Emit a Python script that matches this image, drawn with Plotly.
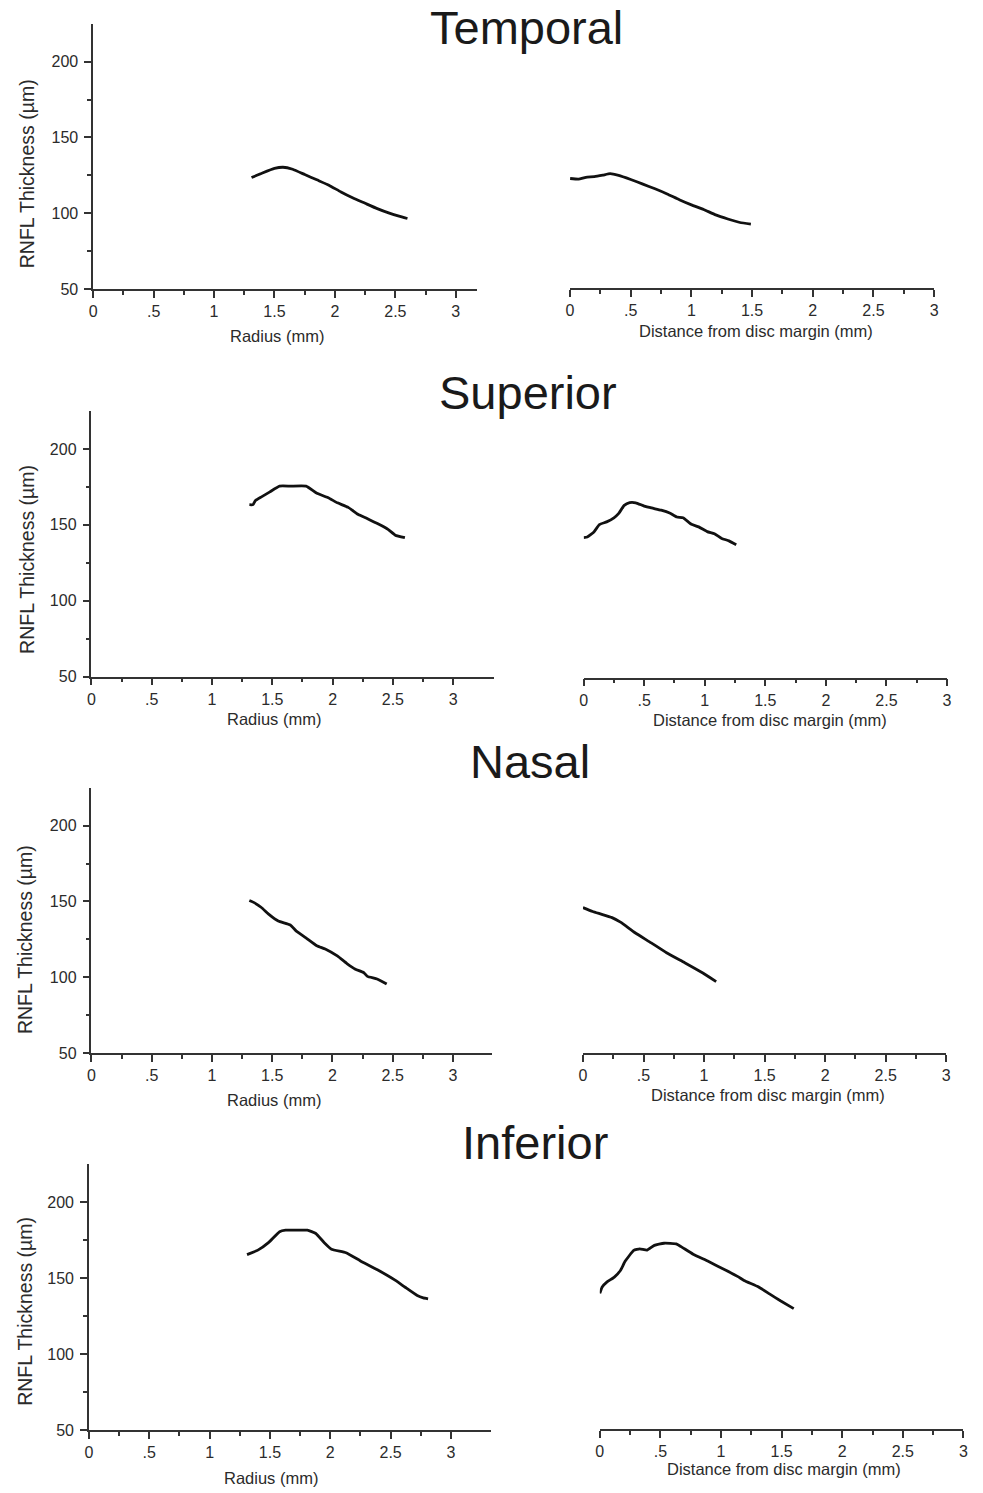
import plotly.graph_objects as go

W, H = 983, 1493

# ---------------- data ----------------
row_titles = ["Temporal", "Superior", "Nasal", "Inferior"]
x_tick_vals = [0, 0.5, 1, 1.5, 2, 2.5, 3]
x_tick_text = ["0", ".5", "1", "1.5", "2", "2.5", "3"]
x_minor_vals = [0.25, 0.75, 1.25, 1.75, 2.25, 2.75]
y_tick_vals = [50, 100, 150, 200]
y_tick_text = ["50", "100", "150", "200"]
y_minor_vals = [75, 125, 175]
left_x_title = "Radius (mm)"
right_x_title = "Distance from disc margin (mm)"
y_title = "RNFL Thickness (µm)"

temporal_radius_x = [1.31, 1.40, 1.50, 1.57, 1.65, 1.75, 1.85, 1.95, 2.05, 2.15, 2.25, 2.35, 2.45, 2.53, 2.60]
temporal_radius_y = [123.5, 126.5, 129.5, 130.3, 129.0, 125.5, 122.0, 118.5, 114.0, 110.0, 106.5, 103.0, 100.0, 98.0, 96.5]
temporal_margin_x = [0, 0.07, 0.13, 0.20, 0.27, 0.33, 0.40, 0.50, 0.60, 0.70, 0.80, 0.90, 1.00, 1.10, 1.20, 1.30, 1.40, 1.49]
temporal_margin_y = [122.0, 121.6, 122.8, 123.2, 124.2, 125.2, 124.0, 121.3, 118.3, 115.2, 111.8, 108.0, 104.6, 101.6, 98.0, 95.3, 93.0, 92.0]

superior_radius_x = [1.31, 1.34, 1.36, 1.41, 1.48, 1.56, 1.65, 1.78, 1.87, 1.96, 2.04, 2.13, 2.21, 2.29, 2.38, 2.46, 2.52, 2.60]
superior_radius_y = [163.3, 163.3, 166.0, 168.4, 171.7, 175.5, 175.5, 175.5, 170.8, 168.0, 164.5, 161.5, 157.0, 154.0, 150.5, 147.0, 143.2, 141.5]
superior_margin_x = [0, 0.03, 0.085, 0.13, 0.19, 0.25, 0.29, 0.335, 0.38, 0.43, 0.50, 0.57, 0.64, 0.71, 0.77, 0.82, 0.89, 0.95, 1.02, 1.08, 1.14, 1.20, 1.26]
superior_margin_y = [142.2, 142.6, 146.0, 150.8, 152.6, 155.3, 158.2, 163.5, 165.3, 165.2, 163.0, 161.6, 160.3, 158.5, 155.8, 155.3, 151.0, 149.3, 146.2, 144.8, 141.7, 140.1, 137.5]

nasal_radius_x = [1.31, 1.35, 1.41, 1.47, 1.55, 1.65, 1.70, 1.78, 1.87, 1.94, 2.04, 2.12, 2.19, 2.26, 2.29, 2.37, 2.45]
nasal_radius_y = [150.6, 149.2, 146.0, 141.6, 137.0, 134.4, 130.4, 126.0, 120.8, 118.6, 114.0, 109.0, 105.3, 103.0, 100.5, 98.8, 95.5]
nasal_margin_x = [0, 0.08, 0.15, 0.24, 0.31, 0.43, 0.55, 0.69, 0.84, 0.99, 1.10]
nasal_margin_y = [146.2, 143.6, 141.9, 139.6, 136.6, 129.6, 123.6, 116.4, 109.8, 103.0, 97.3]

inferior_radius_x = [1.31, 1.40, 1.49, 1.58, 1.63, 1.72, 1.81, 1.88, 1.95, 2.01, 2.13, 2.25, 2.39, 2.54, 2.62, 2.72, 2.77, 2.81]
inferior_radius_y = [165.4, 168.4, 173.5, 180.5, 181.5, 181.5, 181.5, 179.3, 173.3, 169.0, 166.7, 161.3, 155.5, 148.5, 144.0, 138.6, 137.0, 136.4]
inferior_margin_x = [0, 0.02, 0.06, 0.12, 0.17, 0.21, 0.28, 0.33, 0.39, 0.45, 0.53, 0.63, 0.67, 0.77, 0.89, 1.04, 1.14, 1.19, 1.31, 1.40, 1.49, 1.60]
inferior_margin_y = [138.8, 143.0, 146.4, 149.5, 153.8, 160.0, 167.0, 168.0, 167.2, 170.3, 171.7, 171.3, 169.5, 164.5, 160.0, 154.0, 149.8, 147.3, 143.0, 138.5, 134.0, 128.8]

series = [
    (temporal_radius_x, temporal_radius_y, temporal_margin_x, temporal_margin_y),
    (superior_radius_x, superior_radius_y, superior_margin_x, superior_margin_y),
    (nasal_radius_x, nasal_radius_y, nasal_margin_x, nasal_margin_y),
    (inferior_radius_x, inferior_radius_y, inferior_margin_x, inferior_margin_y),
]

# ---------------- layout (pixel boxes) ----------------
left_boxes = [
    (90.0, 477.7, 3.178, 23.9, 290.7),
    (88.3, 495.0, 3.343, 413.5, 680.7),
    (88.3, 493.0, 3.328, 792.6, 1059.3),
    (85.7, 491.7, 3.333, 1171.0, 1439.0),
]
right_boxes = [
    (571.3, 938.7, 22.3, 289.5),
    (585.0, 951.7, 414.5, 681.7),
    (584.3, 951.0, 793.0, 1059.7),
    (601.3, 968.3, 1169.0, 1437.5),
]
title_pos = [(527, 28), (529, 395), (531, 766), (536, 1149)]
left_xtitle_pos = [(275.5, 338.3), (272.5, 723.3), (272.5, 1106.7), (269.7, 1486.7)]
right_xtitle_pos = [(758.8, 333.3), (773.3, 724.3), (771.3, 1101.7), (787.5, 1478.3)]
ytitle_pos = [(24, 174.5), (22.5, 563), (22, 945), (21, 1319)]

FONT = "Liberation Sans, Arial, sans-serif"
TXT = "#2b2b2b"
AX = "#333333"
CURVE = "#111111"

def px(x):
    return x / W

def py(y):
    return 1 - y / H

fig = go.Figure()
layout = dict(
    width=W, height=H, margin=dict(l=0, r=0, t=0, b=0),
    paper_bgcolor="white", plot_bgcolor="white", showlegend=False,
    font=dict(family=FONT, color=TXT),
)
annotations = []

def xaxis_common(domain, rng):
    return dict(
        domain=domain, range=rng, showgrid=False, zeroline=False,
        showline=True, linecolor=AX, linewidth=1.5,
        ticks="outside", ticklen=7, tickwidth=1.5, tickcolor=AX,
        tickmode="array", tickvals=x_tick_vals, ticktext=x_tick_text,
        tickfont=dict(size=16, color=TXT, family=FONT),
        minor=dict(tickmode="array", tickvals=x_minor_vals, ticks="outside",
                   ticklen=4, tickwidth=1.5, tickcolor=AX, showgrid=False),
        fixedrange=True,
    )

n = 0
for r in range(4):
    lx, ly, rx, ry = series[r]
    # left panel
    n += 1
    x0, x1, xmax, yt, yb = left_boxes[r]
    xa = "xaxis" if n == 1 else f"xaxis{n}"
    ya = "yaxis" if n == 1 else f"yaxis{n}"
    xr = "x" if n == 1 else f"x{n}"
    yr = "y" if n == 1 else f"y{n}"
    layout[xa] = xaxis_common([px(x0), px(x1)], [0, xmax])
    layout[xa]["anchor"] = yr
    layout[ya] = dict(
        domain=[py(yb), py(yt)], range=[50, 225], anchor=xr,
        showgrid=False, zeroline=False, showline=True, linecolor=AX, linewidth=1.5,
        ticks="outside", ticklen=7, tickwidth=1.5, tickcolor=AX,
        tickmode="array", tickvals=y_tick_vals, ticktext=y_tick_text,
        tickfont=dict(size=16, color=TXT, family=FONT),
        ticklabelstandoff=3,
        minor=dict(tickmode="array", tickvals=y_minor_vals, ticks="outside",
                   ticklen=4, tickwidth=1.5, tickcolor=AX, showgrid=False),
        fixedrange=True,
    )
    fig.add_trace(go.Scatter(x=lx, y=ly, mode="lines", xaxis=xr, yaxis=yr,
                             line=dict(color=CURVE, width=2.8, shape="spline", smoothing=0.4),
                             hoverinfo="skip"))
    # right panel
    n += 1
    x0, x1, yt, yb = right_boxes[r]
    xa = f"xaxis{n}"
    ya = f"yaxis{n}"
    xr = f"x{n}"
    yr = f"y{n}"
    layout[xa] = xaxis_common([px(x0), px(x1)], [0, 3])
    layout[xa]["anchor"] = yr
    layout[ya] = dict(domain=[py(yb), py(yt)], range=[50, 225], anchor=xr,
                      visible=False, fixedrange=True)
    fig.add_trace(go.Scatter(x=rx, y=ry, mode="lines", xaxis=xr, yaxis=yr,
                             line=dict(color=CURVE, width=2.8, shape="spline", smoothing=0.4),
                             hoverinfo="skip"))

    # texts
    tx, ty = title_pos[r]
    annotations.append(dict(text=row_titles[r], x=px(tx), y=py(ty), xref="paper", yref="paper",
                            xanchor="center", yanchor="middle", showarrow=False,
                            font=dict(size=47, color="#1a1a1a", family=FONT)))
    ax_, ay_ = left_xtitle_pos[r]
    annotations.append(dict(text=left_x_title, x=px(ax_), y=py(ay_), xref="paper", yref="paper",
                            xanchor="center", yanchor="middle", showarrow=False,
                            font=dict(size=16.5, color=TXT, family=FONT)))
    ax_, ay_ = right_xtitle_pos[r]
    annotations.append(dict(text=right_x_title, x=px(ax_), y=py(ay_), xref="paper", yref="paper",
                            xanchor="center", yanchor="middle", showarrow=False,
                            font=dict(size=16.5, color=TXT, family=FONT)))
    ax_, ay_ = ytitle_pos[r]
    annotations.append(dict(text=y_title, x=px(ax_), y=py(ay_), xref="paper", yref="paper",
                            xanchor="center", yanchor="middle", showarrow=False, textangle=-90,
                            font=dict(size=19.5, color=TXT, family=FONT)))

layout["annotations"] = annotations
fig.update_layout(**layout)
fig.write_html("out.html")
